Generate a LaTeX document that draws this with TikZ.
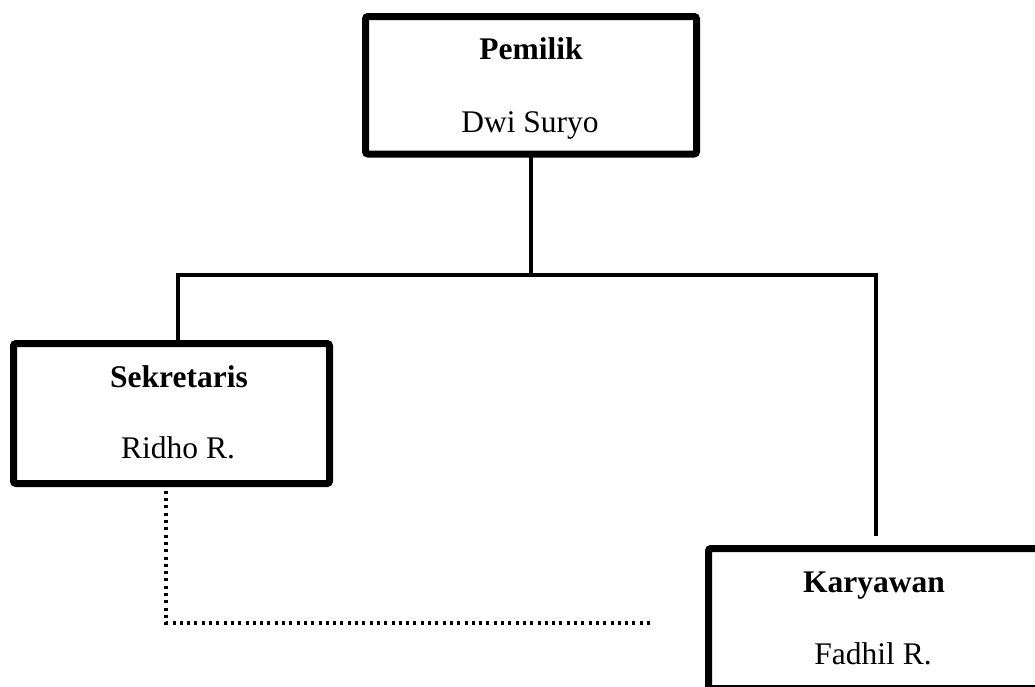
\documentclass[tikz,border=0pt]{standalone}
\usepackage{fontspec}
\setmainfont{Liberation Serif}
\begin{document}
\begin{tikzpicture}[x=1pt,y=-1pt,
  orgbox/.style={draw=black, line width=7pt, rounded corners=2.5pt, inner sep=0pt, outer sep=0pt},
  title/.style={anchor=base, inner sep=0pt, font=\fontsize{31.5}{38}\selectfont\bfseries},
  person/.style={anchor=base, inner sep=0pt, font=\fontsize{31.5}{38}\selectfont},
  link/.style={line width=3.5pt},
  dotlink/.style={line width=3.5pt, dash pattern=on 3pt off 4.3pt}]
\useasboundingbox (0,0) rectangle (1035,686);
\clip (0,0) rectangle (1035,686);
% boxes
\node[orgbox, minimum width=331pt, minimum height=137.5pt] (pem) at (531,85.25) {};
\node[orgbox, minimum width=316pt, minimum height=140pt] (sek) at (171.5,413.5) {};
\node[orgbox, minimum width=333.5pt, minimum height=140pt] (kar) at (875.25,618.5) {};
% texts
\node[title] (pemT) at (531,59) {Pemilik};
\node[person] (pemN) at (530,132) {Dwi Suryo};
\node[title] (sekT) at (179,387) {Sekretaris};
\node[person] (sekN) at (178,458.5) {Ridho R.};
\node[title] (karT) at (874,592) {Karyawan};
\node[person] (karN) at (873,664.5) {Fadhil R.};
% connectors
\coordinate (busL) at (178,275);
\coordinate (busR) at (876,275);
\coordinate (karIn) at (876,536);
\draw[link] (pem.south) -- (pem.south |- busL);
\draw[link] (busL |- sek.north) -- (busL) -- (busR) -- (karIn);
\coordinate (dotC) at (166,623);
\coordinate (dotE) at (652,623);
\draw[dotlink] (dotC |- sek.south) -- (dotC) -- (dotE);
\end{tikzpicture}
\end{document}
